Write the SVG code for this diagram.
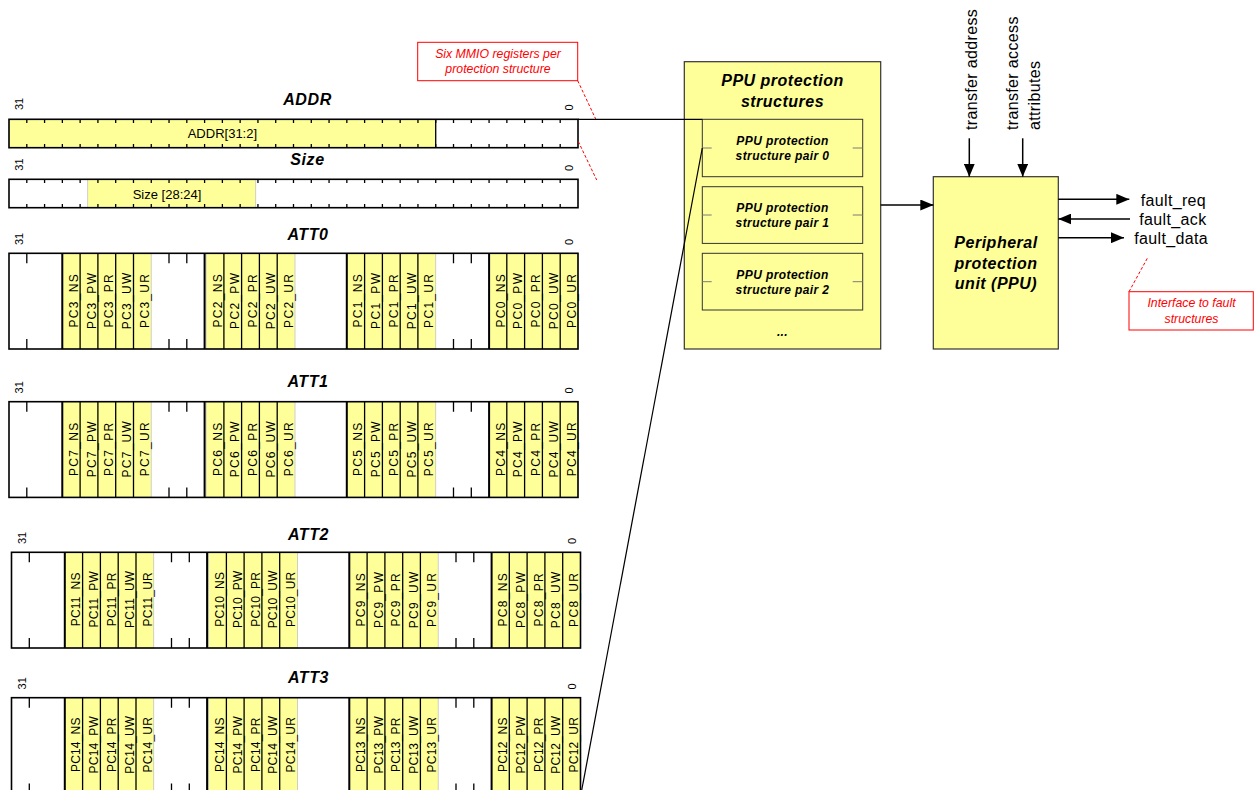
<svg xmlns="http://www.w3.org/2000/svg" xmlns:xlink="http://www.w3.org/1999/xlink" width="1256" height="790" viewBox="0 0 1256 790">
<style>
text { font-family: "Liberation Sans", Arial, sans-serif; fill: #000; }
.bg { fill: #fff; stroke: none; }
.yel { fill: #FFFF99; stroke: #c4c4c4; stroke-width: 0.8; }
.out { fill: none; stroke: #000; stroke-width: 1.6; }
.thk { stroke: #000; stroke-width: 2; fill: none; }
.dv { stroke: #000; stroke-width: 1.3; fill: none; }
.tk { stroke: #000; stroke-width: 3.7; stroke-dasharray: 1.3 16.48; fill: none; }
.f1 { font-size: 12px; text-anchor: middle; letter-spacing: 1.3px; }
.f2 { font-size: 12px; text-anchor: middle; letter-spacing: 0.2px; }
.ttl { font-size: 16px; font-weight: bold; font-style: italic; text-anchor: middle; letter-spacing: 0.6px; }
.bn { font-size: 11px; }
.fld { font-size: 13px; text-anchor: middle; }
.box { fill: #FFFF99; stroke: #333; stroke-width: 1.2; }
.pair { fill: #FFFF99; stroke: #333; stroke-width: 1; }
.stub { stroke: #7a7a7a; stroke-width: 1; fill: none; }
.bt16 { font-size: 16px; font-weight: bold; font-style: italic; text-anchor: middle; letter-spacing: 0.5px; }
.bt12 { font-size: 12px; font-weight: bold; font-style: italic; text-anchor: middle; letter-spacing: 0.4px; }
.sig { font-size: 16px; letter-spacing: 0.35px; }
.call { fill: #fff; stroke: #ff0000; stroke-width: 1; }
.ct { font-size: 12.3px; font-style: italic; fill: #ff0000; text-anchor: middle; }
.dash { stroke: #ff0000; stroke-width: 1; stroke-dasharray: 3 2; fill: none; }
.con { stroke: #000; stroke-width: 1.5; fill: none; }
.ln { stroke: #000; stroke-width: 1.2; fill: none; }
</style>
<defs>
<marker id="arr" markerUnits="userSpaceOnUse" markerWidth="13" markerHeight="11" refX="13" refY="5.5" orient="auto">
<path d="M0 0L13 5.5L0 11z" fill="#000"/>
</marker>
<g id="attFrame">
<rect class="bg" x="9" y="0" width="569" height="95.7"/>
<rect class="yel" x="62.3" y="0" width="88.9" height="95.7"/>
<rect class="yel" x="206.1" y="0" width="88.9" height="95.7"/>
<rect class="yel" x="346.8" y="0" width="88.9" height="95.7"/>
<rect class="yel" x="489.1" y="0" width="88.9" height="95.7"/>
<path class="thk" d="M62.3 0V95.7M204.6 0V95.7M346.8 0V95.7M489.1 0V95.7"/>
<path class="dv" d="M80.1 0V95.7M97.9 0V95.7M115.7 0V95.7M133.5 0V95.7M223.9 0V95.7M241.6 0V95.7M259.4 0V95.7M277.2 0V95.7M364.6 0V95.7M382.4 0V95.7M400.2 0V95.7M417.9 0V95.7M506.8 0V95.7M524.6 0V95.7M542.4 0V95.7M560.2 0V95.7"/>
<path class="dv" d="M26.8 0v10M26.8 95.7v-10M169 0v10M169 95.7v-10M186.8 0v10M186.8 95.7v-10M453.5 0v10M453.5 95.7v-10M471.3 0v10M471.3 95.7v-10"/>
<rect class="out" x="9" y="0" width="569" height="95.7"/>
</g>
</defs>

<rect x="0" y="0" width="1256" height="790" fill="#fff"/>

<g id="reg-addr">
<text class="ttl" x="307.5" y="105">ADDR</text>
<text class="bn" transform="translate(23.3 110) rotate(-90)">31</text>
<text class="bn" transform="translate(573.3 110.5) rotate(-90)">0</text>
<rect class="bg" x="9" y="119.3" width="569" height="28.4"/>
<rect class="yel" x="9" y="119.3" width="426.7" height="28.4"/>
<line class="tk" x1="26.15" y1="121.15" x2="560.85" y2="121.15"/>
<line class="tk" x1="26.15" y1="145.85" x2="560.85" y2="145.85"/>
<line class="dv" x1="435.7" y1="119.3" x2="435.7" y2="147.7"/>
<rect class="out" x="9" y="119.3" width="569" height="28.4"/>
<text class="fld" x="222.4" y="138.3">ADDR[31:2]</text>
</g>

<g id="reg-size">
<text class="ttl" x="307.5" y="165">Size</text>
<text class="bn" transform="translate(23.3 170.7) rotate(-90)">31</text>
<text class="bn" transform="translate(573.3 171) rotate(-90)">0</text>
<rect class="bg" x="9" y="179.3" width="569" height="28.4"/>
<rect class="yel" x="87.7" y="179.3" width="168" height="28.4"/>
<line class="tk" x1="26.15" y1="181.15" x2="560.85" y2="181.15"/>
<line class="tk" x1="26.15" y1="205.85" x2="560.85" y2="205.85"/>
<rect class="out" x="9" y="179.3" width="569" height="28.4"/>
<text class="fld" x="167" y="199.3">Size [28:24]</text>
</g>

<g id="reg-att0" transform="translate(0 253.3)">
<use xlink:href="#attFrame" href="#attFrame"/>
<text class="ttl" x="308" y="-13.5">ATT0</text>
<text class="bn" transform="translate(23.3 -8.3) rotate(-90)">31</text>
<text class="bn" transform="translate(573.3 -8.3) rotate(-90)">0</text>
<text class="f1" transform="translate(77.8 47) rotate(-90)">PC3_NS</text>
<text class="f1" transform="translate(95.6 47) rotate(-90)">PC3_PW</text>
<text class="f1" transform="translate(113.4 47) rotate(-90)">PC3_PR</text>
<text class="f1" transform="translate(131.2 47) rotate(-90)">PC3_UW</text>
<text class="f1" transform="translate(149 47) rotate(-90)">PC3_UR</text>
<text class="f1" transform="translate(221.6 47) rotate(-90)">PC2_NS</text>
<text class="f1" transform="translate(239.4 47) rotate(-90)">PC2_PW</text>
<text class="f1" transform="translate(257.1 47) rotate(-90)">PC2_PR</text>
<text class="f1" transform="translate(274.9 47) rotate(-90)">PC2_UW</text>
<text class="f1" transform="translate(292.7 47) rotate(-90)">PC2_UR</text>
<text class="f1" transform="translate(362.3 47) rotate(-90)">PC1_NS</text>
<text class="f1" transform="translate(380.1 47) rotate(-90)">PC1_PW</text>
<text class="f1" transform="translate(397.9 47) rotate(-90)">PC1_PR</text>
<text class="f1" transform="translate(415.7 47) rotate(-90)">PC1_UW</text>
<text class="f1" transform="translate(433.4 47) rotate(-90)">PC1_UR</text>
<text class="f1" transform="translate(504.6 47) rotate(-90)">PC0_NS</text>
<text class="f1" transform="translate(522.3 47) rotate(-90)">PC0_PW</text>
<text class="f1" transform="translate(540.1 47) rotate(-90)">PC0_PR</text>
<text class="f1" transform="translate(557.9 47) rotate(-90)">PC0_UW</text>
<text class="f1" transform="translate(575.7 47) rotate(-90)">PC0_UR</text>
</g>

<g id="reg-att1" transform="translate(0 401.7)">
<use xlink:href="#attFrame" href="#attFrame"/>
<text class="ttl" x="308" y="-15">ATT1</text>
<text class="bn" transform="translate(23.3 -8.3) rotate(-90)">31</text>
<text class="bn" transform="translate(573.3 -8.3) rotate(-90)">0</text>
<text class="f1" transform="translate(77.8 47) rotate(-90)">PC7_NS</text>
<text class="f1" transform="translate(95.6 47) rotate(-90)">PC7_PW</text>
<text class="f1" transform="translate(113.4 47) rotate(-90)">PC7_PR</text>
<text class="f1" transform="translate(131.2 47) rotate(-90)">PC7_UW</text>
<text class="f1" transform="translate(149 47) rotate(-90)">PC7_UR</text>
<text class="f1" transform="translate(221.6 47) rotate(-90)">PC6_NS</text>
<text class="f1" transform="translate(239.4 47) rotate(-90)">PC6_PW</text>
<text class="f1" transform="translate(257.1 47) rotate(-90)">PC6_PR</text>
<text class="f1" transform="translate(274.9 47) rotate(-90)">PC6_UW</text>
<text class="f1" transform="translate(292.7 47) rotate(-90)">PC6_UR</text>
<text class="f1" transform="translate(362.3 47) rotate(-90)">PC5_NS</text>
<text class="f1" transform="translate(380.1 47) rotate(-90)">PC5_PW</text>
<text class="f1" transform="translate(397.9 47) rotate(-90)">PC5_PR</text>
<text class="f1" transform="translate(415.7 47) rotate(-90)">PC5_UW</text>
<text class="f1" transform="translate(433.4 47) rotate(-90)">PC5_UR</text>
<text class="f1" transform="translate(504.6 47) rotate(-90)">PC4_NS</text>
<text class="f1" transform="translate(522.3 47) rotate(-90)">PC4_PW</text>
<text class="f1" transform="translate(540.1 47) rotate(-90)">PC4_PR</text>
<text class="f1" transform="translate(557.9 47) rotate(-90)">PC4_UW</text>
<text class="f1" transform="translate(575.7 47) rotate(-90)">PC4_UR</text>
</g>

<g id="reg-att2" transform="translate(2.5 552.3)">
<use xlink:href="#attFrame" href="#attFrame"/>
<text class="ttl" x="306" y="-12.5">ATT2</text>
<text class="bn" transform="translate(23.3 -8.3) rotate(-90)">31</text>
<text class="bn" transform="translate(573.3 -8.3) rotate(-90)">0</text>
<text class="f2" transform="translate(77.8 47) rotate(-90)">PC11_NS</text>
<text class="f2" transform="translate(95.6 47) rotate(-90)">PC11_PW</text>
<text class="f2" transform="translate(113.4 47) rotate(-90)">PC11_PR</text>
<text class="f2" transform="translate(131.2 47) rotate(-90)">PC11_UW</text>
<text class="f2" transform="translate(149 47) rotate(-90)">PC11_UR</text>
<text class="f2" transform="translate(221.6 47) rotate(-90)">PC10_NS</text>
<text class="f2" transform="translate(239.4 47) rotate(-90)">PC10_PW</text>
<text class="f2" transform="translate(257.1 47) rotate(-90)">PC10_PR</text>
<text class="f2" transform="translate(274.9 47) rotate(-90)">PC10_UW</text>
<text class="f2" transform="translate(292.7 47) rotate(-90)">PC10_UR</text>
<text class="f1" transform="translate(362.3 47) rotate(-90)">PC9_NS</text>
<text class="f1" transform="translate(380.1 47) rotate(-90)">PC9_PW</text>
<text class="f1" transform="translate(397.9 47) rotate(-90)">PC9_PR</text>
<text class="f1" transform="translate(415.7 47) rotate(-90)">PC9_UW</text>
<text class="f1" transform="translate(433.4 47) rotate(-90)">PC9_UR</text>
<text class="f1" transform="translate(504.6 47) rotate(-90)">PC8_NS</text>
<text class="f1" transform="translate(522.3 47) rotate(-90)">PC8_PW</text>
<text class="f1" transform="translate(540.1 47) rotate(-90)">PC8_PR</text>
<text class="f1" transform="translate(557.9 47) rotate(-90)">PC8_UW</text>
<text class="f1" transform="translate(575.7 47) rotate(-90)">PC8_UR</text>
</g>

<g id="reg-att3" transform="translate(2.5 697.7)">
<use xlink:href="#attFrame" href="#attFrame"/>
<text class="ttl" x="306" y="-14.4">ATT3</text>
<text class="bn" transform="translate(23.3 -8.3) rotate(-90)">31</text>
<text class="bn" transform="translate(573.3 -8.3) rotate(-90)">0</text>
<text class="f2" transform="translate(77.8 47) rotate(-90)">PC14_NS</text>
<text class="f2" transform="translate(95.6 47) rotate(-90)">PC14_PW</text>
<text class="f2" transform="translate(113.4 47) rotate(-90)">PC14_PR</text>
<text class="f2" transform="translate(131.2 47) rotate(-90)">PC14_UW</text>
<text class="f2" transform="translate(149 47) rotate(-90)">PC14_UR</text>
<text class="f2" transform="translate(221.6 47) rotate(-90)">PC14_NS</text>
<text class="f2" transform="translate(239.4 47) rotate(-90)">PC14_PW</text>
<text class="f2" transform="translate(257.1 47) rotate(-90)">PC14_PR</text>
<text class="f2" transform="translate(274.9 47) rotate(-90)">PC14_UW</text>
<text class="f2" transform="translate(292.7 47) rotate(-90)">PC14_UR</text>
<text class="f2" transform="translate(362.3 47) rotate(-90)">PC13_NS</text>
<text class="f2" transform="translate(380.1 47) rotate(-90)">PC13_PW</text>
<text class="f2" transform="translate(397.9 47) rotate(-90)">PC13_PR</text>
<text class="f2" transform="translate(415.7 47) rotate(-90)">PC13_UW</text>
<text class="f2" transform="translate(433.4 47) rotate(-90)">PC13_UR</text>
<text class="f2" transform="translate(504.6 47) rotate(-90)">PC12_NS</text>
<text class="f2" transform="translate(522.3 47) rotate(-90)">PC12_PW</text>
<text class="f2" transform="translate(540.1 47) rotate(-90)">PC12_PR</text>
<text class="f2" transform="translate(557.9 47) rotate(-90)">PC12_UW</text>
<text class="f2" transform="translate(575.7 47) rotate(-90)">PC12_UR</text>
</g>

<g id="ppu-structures">
<rect class="box" x="684.3" y="61.7" width="196.4" height="287.3"/>
<text class="bt16" x="782.5" y="86">PPU protection</text>
<text class="bt16" x="782.5" y="107">structures</text>
<text class="bt12" x="782.5" y="336">...</text>
</g>

<g id="pair0">
<rect class="pair" x="702.3" y="119.3" width="160.4" height="57.4"/>
<path class="stub" d="M702.3 148H711.7M852.7 148H862.7"/>
<text class="bt12" x="782.5" y="144.8">PPU protection</text>
<text class="bt12" x="782.5" y="159.8">structure pair 0</text>
</g>
<g id="pair1">
<rect class="pair" x="702.3" y="186.7" width="160.4" height="56.7"/>
<path class="stub" d="M702.3 215H711.7M852.7 215H862.7"/>
<text class="bt12" x="782.5" y="211.8">PPU protection</text>
<text class="bt12" x="782.5" y="226.8">structure pair 1</text>
</g>
<g id="pair2">
<rect class="pair" x="702.3" y="253.3" width="160.4" height="56.7"/>
<path class="stub" d="M702.3 281.7H711.7M852.7 281.7H862.7"/>
<text class="bt12" x="782.5" y="278.5">PPU protection</text>
<text class="bt12" x="782.5" y="293.5">structure pair 2</text>
</g>

<g id="ppu-unit">
<rect class="box" x="933.3" y="176.7" width="125" height="172.3"/>
<text class="bt16" x="996" y="248">Peripheral</text>
<text class="bt16" x="996" y="268.5">protection</text>
<text class="bt16" x="996" y="289">unit (PPU)</text>
</g>

<g id="signal-labels">
<text class="sig" transform="translate(976.5 130) rotate(-90)">transfer address</text>
<text class="sig" transform="translate(1018.3 130) rotate(-90)">transfer access</text>
<text class="sig" transform="translate(1040 130) rotate(-90)">attributes</text>
<text class="sig" x="1140.7" y="205.5">fault_req</text>
<text class="sig" x="1139.3" y="224.7">fault_ack</text>
<text class="sig" x="1134.3" y="243.7">fault_data</text>
</g>

<g id="callout-mmio">
<rect class="call" x="417.7" y="42.3" width="160" height="38.4"/>
<text class="ct" x="498" y="58.2">Six MMIO registers per</text>
<text class="ct" x="498" y="73.3">protection structure</text>
</g>

<g id="callout-fault">
<rect class="call" x="1129" y="291.7" width="124.3" height="38.3"/>
<text class="ct" x="1191.5" y="307.2">Interface to fault</text>
<text class="ct" x="1191.5" y="322.7">structures</text>
</g>

<g id="connectors">
<path class="ln" d="M578 119.3H702.3"/>
<path class="ln" d="M580.8 795L702.3 148"/>
<path class="con" d="M880.7 205H933.3" marker-end="url(#arr)"/>
<path class="con" d="M969.3 138.3V176.7" marker-end="url(#arr)"/>
<path class="con" d="M1022.7 138.3V176.7" marker-end="url(#arr)"/>
<path class="con" d="M1058.3 199.3H1129.3" marker-end="url(#arr)"/>
<path class="con" d="M1130 219H1058.3" marker-end="url(#arr)"/>
<path class="con" d="M1058.3 237.7H1124" marker-end="url(#arr)"/>
<path class="dash" d="M577.7 80.7L595.7 119"/>
<path class="dash" d="M578.3 141.5L596.7 180"/>
<path class="dash" d="M1129 291.7L1147.3 258.3"/>
</g>
</svg>
